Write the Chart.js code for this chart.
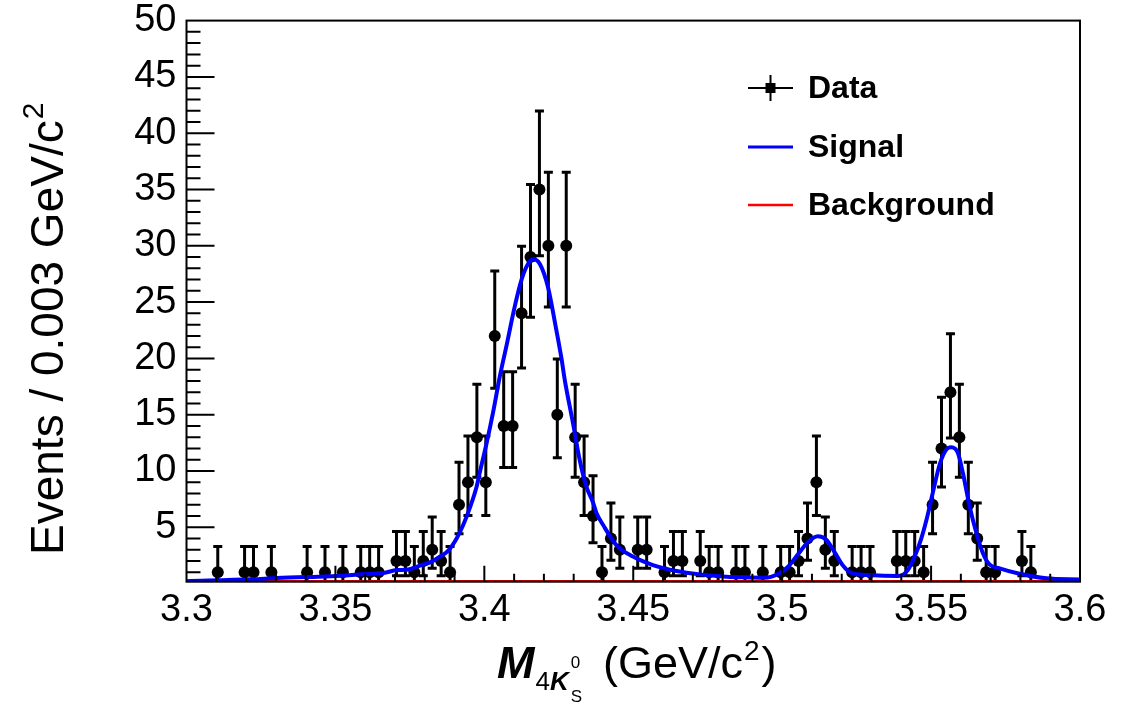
<!DOCTYPE html>
<html>
<head>
<meta charset="utf-8">
<script src="https://cdn.jsdelivr.net/npm/chart.js@4.4.1/dist/chart.umd.min.js"></script>
<style>
  html, body { margin: 0; padding: 0; background: #fff; }
  #wrap { width: 1122px; height: 704px; }
</style>
</head>
<body>
<div id="wrap"><canvas id="c" width="1122" height="704"></canvas></div>
<script>
// non-empty bins (0.003 GeV/c^2 wide), bin centres
const massBins = [
  3.3105, 3.3195, 3.3225, 3.3285, 3.3405, 3.3465, 3.3525, 3.3585, 3.3615, 3.3645,
  3.3705, 3.3735, 3.3765, 3.3795, 3.3825, 3.3855, 3.3885, 3.3915, 3.3945, 3.3975,
  3.4005, 3.4035, 3.4065, 3.4095, 3.4125, 3.4155, 3.4185, 3.4215, 3.4245, 3.4275,
  3.4305, 3.4335, 3.4365, 3.4395, 3.4425, 3.4455, 3.4515, 3.4545, 3.4605, 3.4635,
  3.4665, 3.4725, 3.4755, 3.4785, 3.4845, 3.4875, 3.4935, 3.4995, 3.5025, 3.5055,
  3.5085, 3.5115, 3.5145, 3.5175, 3.5235, 3.5265, 3.5295, 3.5385, 3.5415, 3.5445,
  3.5475, 3.5505, 3.5535, 3.5565, 3.5595, 3.5625, 3.5655, 3.5685, 3.5715, 3.5805,
  3.5835
];
const counts = [
  1, 1, 1, 1, 1, 1, 1, 1, 1, 1,
  2, 2, 1, 2, 3, 2, 1, 7, 9, 13,
  9, 22, 14, 14, 24, 29, 35, 30, 15, 30,
  13, 9, 6, 1, 4, 3, 3, 3, 1, 2,
  2, 2, 1, 1, 1, 1, 1, 1, 1, 2,
  4, 9, 3, 2, 1, 1, 1, 2, 2, 2,
  1, 7, 12, 17, 13, 7, 4, 1, 1, 2,
  1
];
// asymmetric Poisson errors per count
const errLow = { 1: 0.827, 2: 1.292, 3: 1.633, 4: 1.914, 6: 2.379, 7: 2.581, 9: 2.943, 12: 3.415,
  13: 3.558, 14: 3.693, 15: 3.825, 17: 4.079, 22: 4.651, 24: 4.861, 29: 5.351, 30: 5.443, 35: 5.885 };
const errHigh = { 1: 2.299, 2: 2.637, 3: 2.918, 4: 3.162, 6: 3.583, 7: 3.770, 9: 4.110, 12: 4.559,
  13: 4.697, 14: 4.826, 15: 4.954, 17: 5.199, 22: 5.757, 24: 5.963, 29: 6.443, 30: 6.534, 35: 6.968 };

// fitted signal curve
const signalMass = [
  3.3000, 3.3219, 3.3303, 3.3442, 3.3504, 3.3605, 3.3666, 3.3705, 3.3744, 3.3784,
  3.3823, 3.3851, 3.3878, 3.3907, 3.3929, 3.3951, 3.3974, 3.3985, 3.4007, 3.4030,
  3.4052, 3.4075, 3.4102, 3.4125, 3.4147, 3.4164, 3.4186, 3.4214, 3.4237, 3.4259,
  3.4270, 3.4298, 3.4320, 3.4343, 3.4365, 3.4376, 3.4399, 3.4444, 3.4499, 3.4566,
  3.4645, 3.4723, 3.4813, 3.4891, 3.4941, 3.4986, 3.5020, 3.5053, 3.5087, 3.5120,
  3.5148, 3.5176, 3.5204, 3.5232, 3.5288, 3.5389, 3.5422, 3.5445, 3.5467, 3.5484,
  3.5506, 3.5529, 3.5551, 3.5568, 3.5590, 3.5607, 3.5629, 3.5652, 3.5674, 3.5696,
  3.5730, 3.5797, 3.5887, 3.6000
];
const signalFit = [
  0.22, 0.38, 0.50, 0.62, 0.67, 0.85, 0.97, 1.20, 1.25, 1.60,
  1.95, 2.40, 2.90, 4.00, 5.20, 6.70, 8.60, 9.90, 12.4, 15.3,
  18.4, 21.2, 24.6, 27.0, 28.4, 28.8, 28.4, 26.3, 23.2, 20.0,
  18.1, 14.2, 11.0, 8.60, 7.20, 6.30, 5.20, 3.40, 2.40, 1.65,
  1.12, 0.82, 0.62, 0.55, 0.52, 0.85, 1.50, 2.60, 3.70, 4.20,
  3.90, 2.80, 1.60, 0.95, 0.76, 0.67, 1.20, 2.40, 4.00, 5.60,
  8.10, 10.6, 11.9, 12.1, 11.6, 9.80, 6.90, 4.50, 2.70, 1.70,
  1.36, 0.88, 0.47, 0.36
];
const bkgMass = [3.3, 3.6];
const bkgFit = [0.2, 0.2];

const yTickValues = [5, 10, 15, 20, 25, 30, 35, 40, 45, 50];
const xTickValues = [3.3, 3.35, 3.4, 3.45, 3.5, 3.55, 3.6];
const xTickLabels = ['3.3', '3.35', '3.4', '3.45', '3.5', '3.55', '3.6'];

const FONT = '"Liberation Sans", Arial, Helvetica, sans-serif';
const Y_MIN = 0.17, Y_MAX = 50;

const errorBars = {
  id: 'errorBars',
  beforeDatasetsDraw(chart) {
    const { ctx, chartArea: a, scales: { x, y } } = chart;
    ctx.save();
    ctx.beginPath();
    ctx.rect(a.left, a.top, a.right - a.left, a.bottom - a.top);
    ctx.clip();
    ctx.strokeStyle = '#000';
    ctx.lineWidth = 3;
    massBins.forEach((m, i) => {
      const n = counts[i];
      const px = x.getPixelForValue(m);
      const yLo = y.getPixelForValue(n - errLow[n]);
      const yHi = y.getPixelForValue(n + errHigh[n]);
      ctx.beginPath();
      ctx.moveTo(px, yLo);
      ctx.lineTo(px, yHi);
      ctx.moveTo(px - 4.5, yLo);
      ctx.lineTo(px + 4.5, yLo);
      ctx.moveTo(px - 4.5, yHi);
      ctx.lineTo(px + 4.5, yHi);
      ctx.stroke();
    });
    ctx.restore();
  }
};

const frameTicks = {
  id: 'frameTicks',
  afterDraw(chart) {
    const { ctx, chartArea: a, scales: { x, y } } = chart;
    ctx.save();
    ctx.strokeStyle = '#000';
    ctx.lineWidth = 2;
    ctx.strokeRect(a.left, a.top, a.right - a.left, a.bottom - a.top);
    ctx.beginPath();
    for (let v = 1; v <= 49; v++) {
      const py = y.getPixelForValue(v);
      const len = v % 5 === 0 ? 28 : 14;
      ctx.moveTo(a.left, py);
      ctx.lineTo(a.left + len, py);
    }
    for (let k = 1; k < 30; k++) {
      const px = x.getPixelForValue(3.3 + k * 0.01);
      const len = k % 5 === 0 ? 16 : 8;
      ctx.moveTo(px, a.bottom);
      ctx.lineTo(px, a.bottom - len);
    }
    ctx.stroke();
    ctx.restore();
  }
};

const titlesLegend = {
  id: 'titlesLegend',
  afterDraw(chart) {
    const ctx = chart.ctx;
    ctx.save();
    ctx.fillStyle = '#000';
    ctx.textBaseline = 'alphabetic';
    ctx.textAlign = 'left';

    // y title
    ctx.save();
    ctx.translate(63, 555);
    ctx.rotate(-Math.PI / 2);
    ctx.font = '46px ' + FONT;
    const yt = 'Events / 0.003 GeV/c';
    ctx.fillText(yt, 0, 0);
    const w = ctx.measureText(yt).width;
    ctx.font = '30px ' + FONT;
    ctx.fillText('2', w + 1, -20);
    ctx.restore();

    // x title
    let cx = 497;
    ctx.font = 'italic bold 45px ' + FONT;
    ctx.fillText('M', cx, 678);
    cx += ctx.measureText('M').width + 1;
    ctx.font = '26px ' + FONT;
    ctx.fillText('4', cx, 690);
    cx += ctx.measureText('4').width;
    ctx.font = 'italic bold 26px ' + FONT;
    ctx.fillText('K', cx, 690);
    cx += ctx.measureText('K').width + 2;
    ctx.font = '17px ' + FONT;
    ctx.fillText('0', cx, 668);
    ctx.fillText('S', cx, 702);
    cx = 603;
    ctx.font = '45px ' + FONT;
    ctx.fillText('(GeV/c', cx, 678);
    cx += ctx.measureText('(GeV/c').width + 1;
    ctx.font = '28px ' + FONT;
    ctx.fillText('2', cx, 660);
    cx += ctx.measureText('2').width + 2;
    ctx.font = '45px ' + FONT;
    ctx.fillText(')', cx, 678);

    // legend
    ctx.font = 'bold 32px ' + FONT;
    ctx.textBaseline = 'middle';
    ctx.lineWidth = 2;
    ctx.strokeStyle = '#000';
    ctx.beginPath();
    ctx.moveTo(748, 88); ctx.lineTo(793, 88);
    ctx.moveTo(770.5, 75); ctx.lineTo(770.5, 101);
    ctx.stroke();
    ctx.fillRect(765.5, 83, 10, 10);
    ctx.fillText('Data', 808, 89);

    ctx.strokeStyle = '#0000ff';
    ctx.lineWidth = 3;
    ctx.beginPath();
    ctx.moveTo(748, 147); ctx.lineTo(793, 147);
    ctx.stroke();
    ctx.fillText('Signal', 808, 148);

    ctx.strokeStyle = '#ff0000';
    ctx.lineWidth = 2.5;
    ctx.beginPath();
    ctx.moveTo(748, 205); ctx.lineTo(793, 205);
    ctx.stroke();
    ctx.fillText('Background', 808, 206);
    ctx.restore();
  }
};

new Chart(document.getElementById('c').getContext('2d'), {
  type: 'scatter',
  data: {
    datasets: [
      {
        label: 'Data',
        data: massBins.map((m, i) => ({ x: m, y: counts[i] })),
        pointRadius: 6,
        pointBackgroundColor: '#000',
        pointBorderColor: '#000',
        pointBorderWidth: 0,
        showLine: false,
        order: 3
      },
      {
        label: 'Signal',
        data: signalMass.map((m, i) => ({ x: m, y: signalFit[i] })),
        showLine: true,
        borderColor: '#0000ff',
        borderWidth: 4,
        pointRadius: 0,
        cubicInterpolationMode: 'monotone',
        order: 1
      },
      {
        label: 'Background',
        data: bkgMass.map((m, i) => ({ x: m, y: bkgFit[i] })),
        showLine: true,
        borderColor: '#ff0000',
        borderWidth: 2.5,
        pointRadius: 0,
        order: 2
      }
    ]
  },
  options: {
    responsive: false,
    animation: false,
    devicePixelRatio: 1,
    layout: { padding: { top: 20.6, right: 42, left: 0, bottom: 0 } },
    plugins: { legend: { display: false }, tooltip: { enabled: false } },
    scales: {
      x: {
        type: 'linear',
        min: 3.3,
        max: 3.6,
        afterFit: (s) => { s.height = 122.3; s.paddingLeft = 0; s.paddingRight = 0; },
        afterBuildTicks: (s) => { s.ticks = xTickValues.map(v => ({ value: v })); },
        ticks: {
          callback: (v, i) => xTickLabels[i],
          font: { family: FONT, size: 38 },
          color: '#000',
          padding: 6,
          maxRotation: 0,
          autoSkip: false
        },
        grid: { display: false, drawTicks: false, tickLength: 0 },
        border: { display: false }
      },
      y: {
        type: 'linear',
        min: Y_MIN,
        max: Y_MAX,
        afterFit: (s) => { s.width = 186.5; s.paddingTop = 0; s.paddingBottom = 0; },
        afterBuildTicks: (s) => { s.ticks = yTickValues.map(v => ({ value: v })); },
        ticks: {
          font: { family: FONT, size: 38 },
          color: '#000',
          padding: 10
        },
        grid: { display: false, drawTicks: false, tickLength: 0 },
        border: { display: false }
      }
    }
  },
  plugins: [errorBars, frameTicks, titlesLegend]
});
</script>
</body>
</html>
